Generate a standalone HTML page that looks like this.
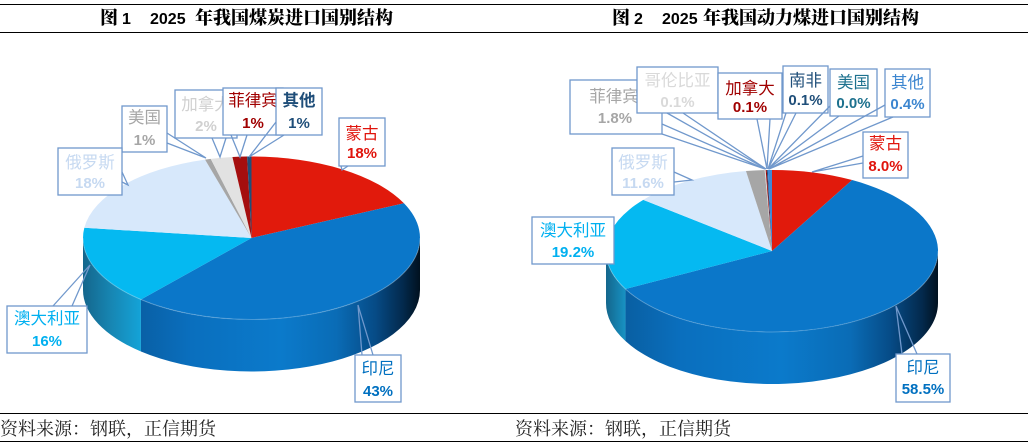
<!DOCTYPE html>
<html><head><meta charset="utf-8"><style>
html,body{margin:0;padding:0;background:#fff;width:1035px;height:445px;overflow:hidden}
svg{display:block}
.cj{font-family:"Liberation Sans","Noto Sans CJK SC",sans-serif;font-size:16.5px}
.pc{font-family:"Liberation Sans","Noto Sans CJK SC",sans-serif;font-size:15px;font-weight:bold}
.tt{font-family:"Liberation Serif","Noto Serif CJK SC",serif;font-size:18px;font-weight:900;fill:#000}
.tn{font-family:"Liberation Sans",sans-serif;font-size:16px;font-weight:bold;fill:#000}
.ft{font-family:"Liberation Serif","Noto Serif CJK SC",serif;font-size:18px;fill:#222}
.bx{fill:#fff;stroke:#7098cc;stroke-width:1.3}
.tl{fill:none;stroke:#7098cc;stroke-width:1.3}
</style></head><body>
<svg width="1035" height="445" viewBox="0 0 1035 445" xmlns="http://www.w3.org/2000/svg">
<defs>
<linearGradient id="gbL" gradientUnits="userSpaceOnUse" x1="141" y1="0" x2="420" y2="0">
<stop offset="0" stop-color="#0960a6"/><stop offset="0.18" stop-color="#0a6fbe"/><stop offset="0.5" stop-color="#0b7acb"/><stop offset="0.7" stop-color="#0a6cb6"/><stop offset="0.84" stop-color="#064b86"/><stop offset="0.94" stop-color="#03294c"/><stop offset="1" stop-color="#01111f"/>
</linearGradient>
<linearGradient id="gcL" gradientUnits="userSpaceOnUse" x1="83" y1="0" x2="141" y2="0">
<stop offset="0" stop-color="#14668c"/><stop offset="0.5" stop-color="#1787b4"/><stop offset="1" stop-color="#14a3d8"/>
</linearGradient>
<linearGradient id="gbR" gradientUnits="userSpaceOnUse" x1="625" y1="0" x2="938" y2="0">
<stop offset="0" stop-color="#095fa2"/><stop offset="0.18" stop-color="#0a6fbe"/><stop offset="0.5" stop-color="#0b7acb"/><stop offset="0.72" stop-color="#0a6cb6"/><stop offset="0.85" stop-color="#064b86"/><stop offset="0.95" stop-color="#03294c"/><stop offset="1" stop-color="#01111f"/>
</linearGradient>
<linearGradient id="gcR" gradientUnits="userSpaceOnUse" x1="606" y1="0" x2="625" y2="0">
<stop offset="0" stop-color="#14668c"/><stop offset="1" stop-color="#1791c2"/>
</linearGradient>
</defs>

<!-- frame lines -->
<line x1="0" y1="4.5" x2="1028" y2="4.5" stroke="#000" stroke-width="1"/>
<line x1="0" y1="32.5" x2="1028" y2="32.5" stroke="#000" stroke-width="1"/>
<line x1="0" y1="413.5" x2="1028" y2="413.5" stroke="#000" stroke-width="1"/>
<line x1="0" y1="441.5" x2="1028" y2="441.5" stroke="#000" stroke-width="1"/>

<!-- titles -->
<text class="tt" x="100" y="24">图</text>
<text class="tn" x="122" y="24">1</text>
<text class="tn" x="150" y="24">2025</text>
<text class="tt" x="195" y="24">年我国煤炭进口国别结构</text>

<text class="tt" x="612" y="24">图</text>
<text class="tn" x="634" y="24">2</text>
<text class="tn" x="662" y="24">2025</text>
<text class="tt" x="703" y="24">年我国动力煤进口国别结构</text>

<!-- footers -->
<text class="ft" x="0" y="435">资料来源：钢联，正信期货</text>
<text class="ft" x="515" y="435">资料来源：钢联，正信期货</text>

<!-- LEFT PIE -->
<path d="M420,238 A168.5,81.5 0 0 1 140.95,299.51 L140.95,351.51 A168.5,81.5 0 0 0 420,290 Z" fill="url(#gbL)"/>
<path d="M140.95,299.51 A168.5,81.5 0 0 1 83,238 L83,290 A168.5,81.5 0 0 0 140.95,351.51 Z" fill="url(#gcL)"/>
<path d="M251.5,238 L251.5,156.5 A168.5,81.5 0 0 1 403.96,203.3 Z" fill="#e11a0c"/>
<path d="M251.5,238 L403.96,203.3 A168.5,81.5 0 0 1 140.95,299.51 Z" fill="#0b77c9"/>
<path d="M251.5,238 L140.95,299.51 A168.5,81.5 0 0 1 84.33,227.79 Z" fill="#05b9f1"/>
<path d="M251.5,238 L84.33,227.79 A168.5,81.5 0 0 1 205.06,159.65 Z" fill="#d7e8fb"/>
<path d="M251.5,238 L205.06,159.65 A168.5,81.5 0 0 1 210.74,158.92 Z" fill="#a6a6a6"/>
<path d="M251.5,238 L210.74,158.92 A168.5,81.5 0 0 1 232.43,157.02 Z" fill="#e2e2e2"/>
<path d="M251.5,238 L232.43,157.02 A168.5,81.5 0 0 1 247.09,156.53 Z" fill="#a50e0e"/>
<path d="M251.5,238 L247.09,156.53 A168.5,81.5 0 0 1 251.5,156.5 Z" fill="#1f4e79"/>
<path d="M420,238 A168.5,81.5 0 0 1 83,238" fill="none" stroke="rgba(255,255,255,0.25)" stroke-width="1"/>

<!-- LEFT CALLOUTS -->
<rect class="bx" x="122" y="106" width="45" height="46"/>
<polyline class="tl" points="167,133 206,158 167,143"/>
<text class="cj" x="144.5" y="123" text-anchor="middle" fill="#a6a6a6">美国</text>
<text class="pc" x="144.5" y="145" text-anchor="middle" fill="#a6a6a6">1%</text>

<rect class="bx" x="175" y="90" width="62" height="48"/>
<polyline class="tl" points="212,138 220,157 226,138"/>
<text class="cj" x="206" y="110" text-anchor="middle" fill="#d0d0d0">加拿大</text>
<text class="pc" x="206" y="131" text-anchor="middle" fill="#d0d0d0">2%</text>

<rect class="bx" x="223" y="88" width="60" height="47"/>
<polyline class="tl" points="231,135 240,157 247,135"/>
<text class="cj" x="253" y="106" text-anchor="middle" fill="#a00000">菲律宾</text>
<text class="pc" x="253" y="128" text-anchor="middle" fill="#a00000">1%</text>

<rect class="bx" x="276" y="88" width="46" height="47"/>
<polyline class="tl" points="276,122 249,157 284,135"/>
<text class="cj" x="299" y="106" text-anchor="middle" fill="#1f4e79" font-weight="bold">其他</text>
<text class="pc" x="299" y="128" text-anchor="middle" fill="#1f4e79">1%</text>

<rect class="bx" x="58" y="148" width="64" height="47"/>
<polyline class="tl" points="122,172 128,185 122,182"/>
<text class="cj" x="90" y="168" text-anchor="middle" fill="#c6d9f1">俄罗斯</text>
<text class="pc" x="90" y="188" text-anchor="middle" fill="#c6d9f1">18%</text>

<rect class="bx" x="339" y="118" width="46" height="48"/>
<polyline class="tl" points="341,166 342,170 348,166"/>
<text class="cj" x="362" y="139" text-anchor="middle" fill="#e0140c">蒙古</text>
<text class="pc" x="362" y="158" text-anchor="middle" fill="#e0140c">18%</text>

<rect class="bx" x="7" y="306" width="80" height="47"/>
<polyline class="tl" points="53,306 90,265 72,306"/>
<text class="cj" x="47" y="324" text-anchor="middle" fill="#00b0f0">澳大利亚</text>
<text class="pc" x="47" y="346" text-anchor="middle" fill="#00b0f0">16%</text>

<rect class="bx" x="355" y="355" width="46" height="47"/>
<polyline class="tl" points="362,355 358,305 373,355"/>
<text class="cj" x="378" y="374" text-anchor="middle" fill="#0070c0">印尼</text>
<text class="pc" x="378" y="396" text-anchor="middle" fill="#0070c0">43%</text>

<!-- RIGHT PIE -->
<path d="M938,251 A166,81 0 0 1 625.44,289.03 L625.44,341.03 A166,81 0 0 0 938,303 Z" fill="url(#gbR)"/>
<path d="M625.44,289.03 A166,81 0 0 1 606,251 L606,303 A166,81 0 0 0 625.44,341.03 Z" fill="url(#gcR)"/>
<path d="M772,251 L772,170 A166,81 0 0 1 852.13,180.06 Z" fill="#e11a0c"/>
<path d="M772,251 L852.13,180.06 A166,81 0 1 1 625.44,289.03 Z" fill="#0b77c9"/>
<path d="M772,251 L625.44,289.03 A166,81 0 0 1 643.28,199.85 Z" fill="#05b9f1"/>
<path d="M772,251 L643.28,199.85 A166,81 0 0 1 745.97,171 Z" fill="#d7e8fb"/>
<path d="M772,251 L745.97,171 A166,81 0 0 1 764.68,170.08 Z" fill="#a6a6a6"/>
<path d="M772,251 L764.68,170.08 A166,81 0 0 1 765.71,170.06 Z" fill="#d9d9d9"/>
<path d="M772,251 L765.71,170.06 A166,81 0 0 1 766.76,170.04 Z" fill="#a00000"/>
<path d="M772,251 L766.76,170.04 A166,81 0 0 1 767.8,170.03 Z" fill="#1f4e79"/>
<path d="M772,251 L767.8,170.03 A166,81 0 0 1 772,170 Z" fill="#3f88d6"/>
<path d="M938,251 A166,81 0 0 1 606,251" fill="none" stroke="rgba(255,255,255,0.25)" stroke-width="1"/>

<!-- RIGHT CALLOUTS -->
<rect class="bx" x="570" y="80" width="92" height="54"/>
<polyline class="tl" points="662,124 765,169 662,134"/>
<text class="cj" x="614" y="102" text-anchor="middle" fill="#a6a6a6">菲律宾</text>
<text class="pc" x="615" y="123" text-anchor="middle" fill="#a6a6a6">1.8%</text>

<rect class="bx" x="637" y="67" width="81" height="46"/>
<polyline class="tl" points="667,113 766,169 683,113"/>
<text class="cj" x="677.5" y="86" text-anchor="middle" fill="#d9d9d9">哥伦比亚</text>
<text class="pc" x="677.5" y="107" text-anchor="middle" fill="#d9d9d9">0.1%</text>

<rect class="bx" x="718" y="73" width="64" height="46"/>
<polyline class="tl" points="757,119 767,169 770,119"/>
<text class="cj" x="750" y="94" text-anchor="middle" fill="#a00000">加拿大</text>
<text class="pc" x="750" y="112" text-anchor="middle" fill="#a00000">0.1%</text>

<rect class="bx" x="783" y="66" width="45" height="47"/>
<polyline class="tl" points="786,113 768,169 796,113"/>
<text class="cj" x="805.5" y="86" text-anchor="middle" fill="#1f4e79">南非</text>
<text class="pc" x="805.5" y="105" text-anchor="middle" fill="#1f4e79">0.1%</text>

<rect class="bx" x="830" y="69" width="47" height="47"/>
<polyline class="tl" points="830,106 768,169 839,116"/>
<text class="cj" x="853.5" y="88" text-anchor="middle" fill="#1d718e">美国</text>
<text class="pc" x="853.5" y="108" text-anchor="middle" fill="#1d718e">0.0%</text>

<rect class="bx" x="885" y="69" width="45" height="48"/>
<polyline class="tl" points="885,105 769,169 893,117"/>
<text class="cj" x="907.5" y="88" text-anchor="middle" fill="#3c86d0">其他</text>
<text class="pc" x="907.5" y="109" text-anchor="middle" fill="#3c86d0">0.4%</text>

<rect class="bx" x="863" y="132" width="45" height="46"/>
<polyline class="tl" points="863,156 812,172 863,163"/>
<text class="cj" x="885.5" y="149" text-anchor="middle" fill="#e0140c">蒙古</text>
<text class="pc" x="885.5" y="171" text-anchor="middle" fill="#e0140c">8.0%</text>

<rect class="bx" x="612" y="148" width="62" height="47"/>
<polyline class="tl" points="674,172 692,180 674,182"/>
<text class="cj" x="643" y="168" text-anchor="middle" fill="#c6d9f1">俄罗斯</text>
<text class="pc" x="643" y="188" text-anchor="middle" fill="#c6d9f1">11.6%</text>

<rect class="bx" x="532" y="217" width="82" height="47"/>
<text class="cj" x="573" y="236" text-anchor="middle" fill="#00b0f0">澳大利亚</text>
<text class="pc" x="573" y="257" text-anchor="middle" fill="#00b0f0">19.2%</text>

<rect class="bx" x="896" y="354" width="54" height="48"/>
<polyline class="tl" points="902,354 896,306 917,354"/>
<text class="cj" x="923" y="373" text-anchor="middle" fill="#0070c0">印尼</text>
<text class="pc" x="923" y="394" text-anchor="middle" fill="#0070c0">58.5%</text>
</svg>
</body></html>
